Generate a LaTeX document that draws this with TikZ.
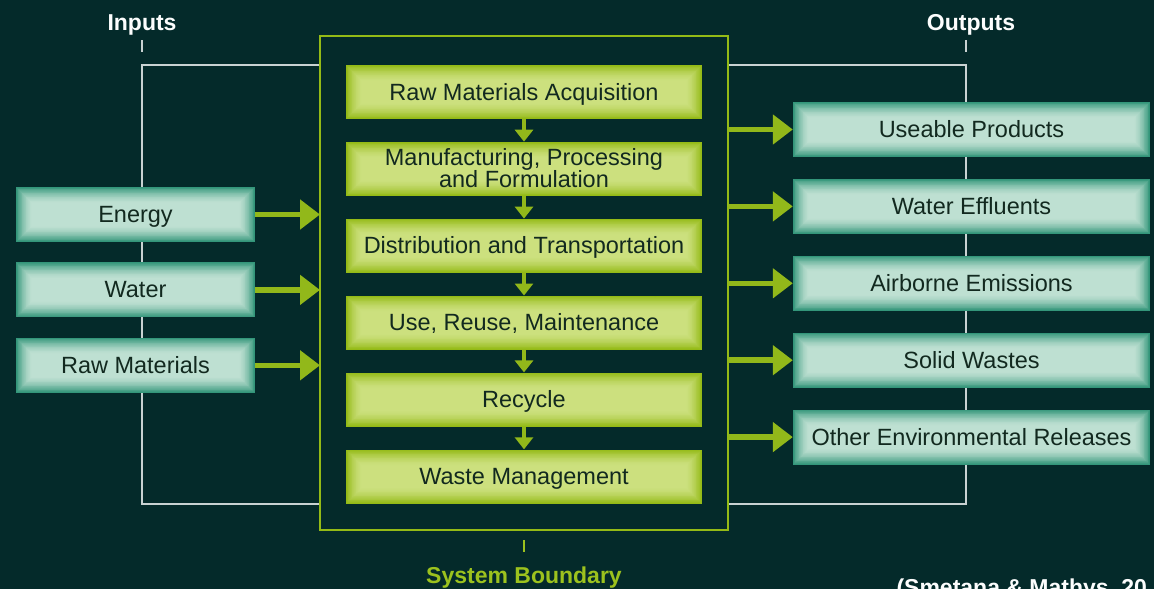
\documentclass[tikz,border=0pt]{standalone}
\usepackage{fontspec}
\setmainfont{Liberation Sans}
\usepackage{xcolor}
\usetikzlibrary{positioning,arrows.meta}

\definecolor{bgdark}{HTML}{042A2A}
\definecolor{limeedge}{HTML}{94BA16}
\definecolor{limecore}{HTML}{CCE07E}
\definecolor{tealedge}{HTML}{33967A}
\definecolor{tealcore}{HTML}{BEE0D2}
\definecolor{arrowgreen}{HTML}{92B81A}
\definecolor{framegrey}{HTML}{C9D2D2}
\definecolor{boxtext}{HTML}{12291F}
\definecolor{labelgreen}{HTML}{9CC21E}

\pgfdeclarelayer{back}
\pgfdeclarelayer{wires}
\pgfsetlayers{back,wires,main}

\begin{document}
\begin{tikzpicture}[
    x=1pt, y=-1pt,
    node distance=22.5pt,
    % soft inner glow: nested rectangles from edge colour to core colour
    glow/.style 2 args={fill=#1, path picture={
        \foreach \k in {1,...,20}{
          \pgfmathtruncatemacro\mix{100*(1-(1-\k/20)^1.6)}
          \fill[#2!\mix!#1]
            ([shift={(\k*0.8pt,\k*0.8pt)}]path picture bounding box.south west) rectangle
            ([shift={(-\k*0.8pt,-\k*0.8pt)}]path picture bounding box.north east);
        }}},
    stage/.style={glow={limeedge}{limecore}, minimum width=356pt, minimum height=54pt, inner sep=0pt,
      align=center, text=boxtext, text height=16pt, text depth=0pt, font=\fontsize{23.5}{22}\selectfont},
    flow/.style={glow={tealedge}{tealcore}, minimum height=55pt, inner sep=0pt,
      align=center, text=boxtext, text height=16pt, text depth=0pt, font=\fontsize{23.5}{22}\selectfont},
    boundary/.style={draw=limeedge, line width=2.2pt, outer sep=0pt, minimum width=408pt, minimum height=494pt},
    line/.style={-{Triangle[width=29pt,length=20pt]}, line width=5.5pt, arrowgreen},
    drop/.style={-{Triangle[width=18pt,length=12pt]}, line width=4pt, arrowgreen},
    frame/.style={framegrey, line width=2pt},
    heading/.style={font=\bfseries\fontsize{23}{26}\selectfont, text=white!95!framegrey}
]
\useasboundingbox (0,0) rectangle (1154,589);
\begin{pgfonlayer}{back}
  \fill[bgdark] (0,0) rectangle (1154,589);
\end{pgfonlayer}

\coordinate (inbus) at (142,0);
\coordinate (outbus) at (966,0);

% system boundary and life-cycle stages
\node[boundary] (sysb) at (524,283) {};
\node[stage] (acq) at (524,92) {Raw Materials Acquisition};
\node[stage, below=of acq, text height=38pt] (manuf) {Manufacturing, Processing\\and Formulation};
\node[stage, below=of manuf] (distr) {Distribution and Transportation};
\node[stage, below=of distr] (reuse) {Use, Reuse, Maintenance};
\node[stage, below=of reuse] (recyc) {Recycle};
\node[stage, below=of recyc] (wastem) {Waste Management};

% inputs
\node[flow, minimum width=239pt] (energy) at (135.5,214.5) {Energy};
\node[flow, minimum width=239pt, below=20pt of energy] (water) {Water};
\node[flow, minimum width=239pt, below=20pt of water] (rawin) {Raw Materials};

% outputs
\node[flow, minimum width=357pt] (useable) at (971.5,129.5) {Useable Products};
\node[flow, minimum width=357pt, below=21.5pt of useable] (effluent) {Water Effluents};
\node[flow, minimum width=357pt, below=21.5pt of effluent] (airborne) {Airborne Emissions};
\node[flow, minimum width=357pt, below=21.5pt of airborne] (solidw) {Solid Wastes};
\node[flow, minimum width=357pt, below=21.5pt of solidw] (otherrel) {Other Environmental Releases};

\begin{pgfonlayer}{wires}
  \draw[frame] (sysb.west |- acq.north) -| (inbus |- wastem.south) -- (sysb.west |- wastem.south);
  \draw[frame] (sysb.east |- acq.north) -| (outbus |- wastem.south) -- (sysb.east |- wastem.south);
\end{pgfonlayer}

\foreach \a/\b in {acq/manuf, manuf/distr, distr/reuse, reuse/recyc, recyc/wastem}
  \draw[drop] (\a) -- (\b);
\foreach \src in {energy, water, rawin}
  \draw[line] (\src.east) -- (\src.east -| sysb.west);
\foreach \dst in {useable, effluent, airborne, solidw, otherrel}
  \draw[line] (\dst.west -| sysb.east) -- (\dst.west);

% labels
\node[heading, anchor=base] (inlbl) at (142,30) {Inputs};
\node[heading, anchor=base] (outlbl) at (971,30) {Outputs};
\node[heading, text=labelgreen, anchor=base] (sblbl) at (524,583) {System Boundary};
\coordinate (intick) at (142,40);
\coordinate (outtick) at (966,40);
\coordinate (sbtick) at (524,540);
\draw[frame, line width=1.6pt] (intick) -- ++(0,12);
\draw[frame, line width=1.6pt] (outtick) -- ++(0,12);
\draw[labelgreen, line width=1.6pt] (sbtick) -- ++(0,12);

\begin{scope}
  \clip (0,0) rectangle (1154,589);
  \node[heading, anchor=base west] (cite) at (893,595) {(Smetana \& Mathys, 20};
\end{scope}
\end{tikzpicture}
\end{document}
